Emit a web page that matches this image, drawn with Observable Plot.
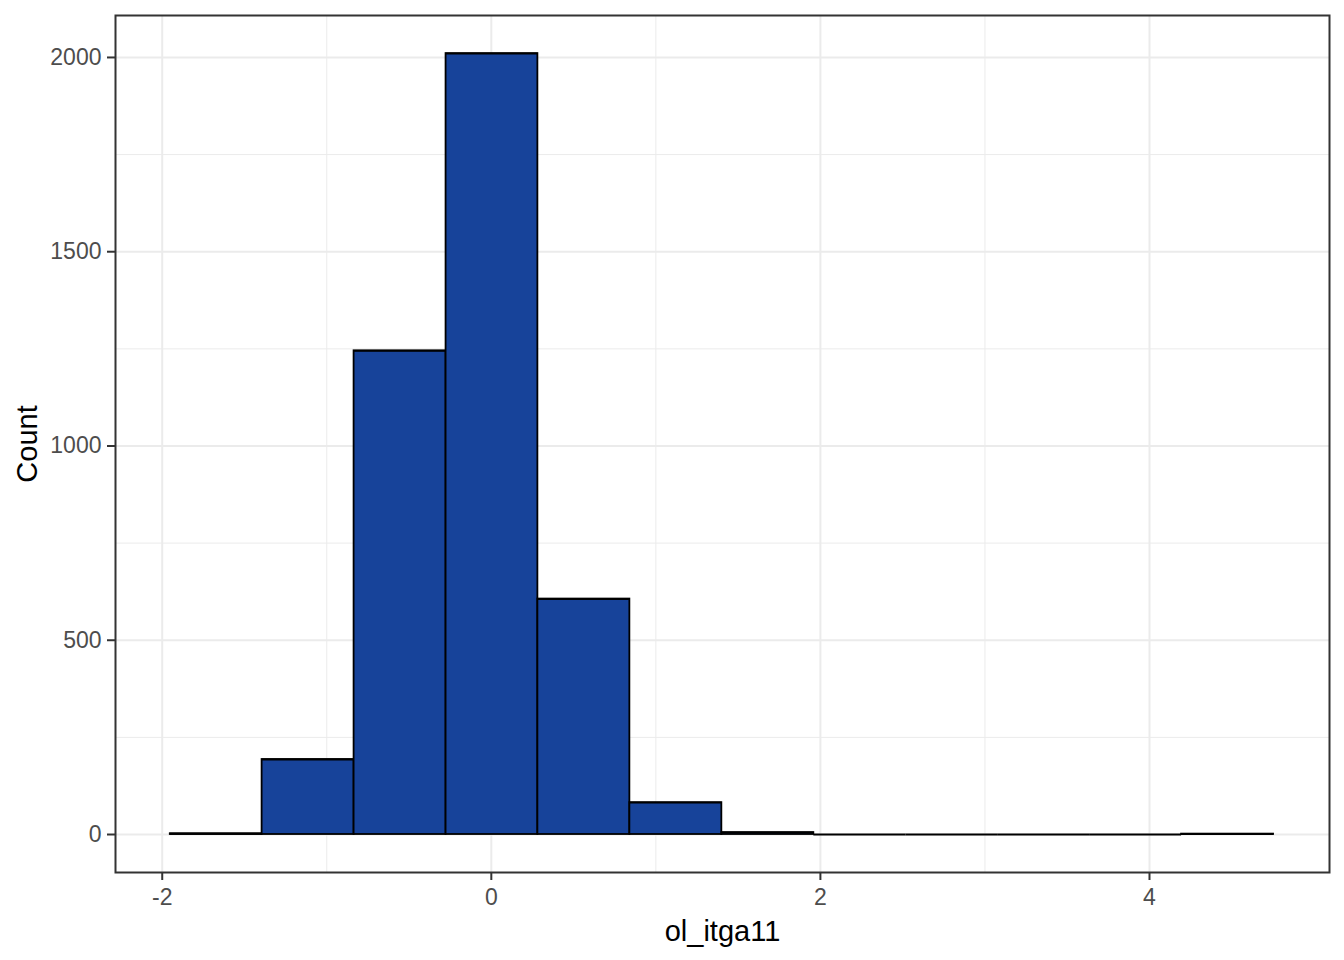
<!DOCTYPE html>
<html>
<head>
<meta charset="utf-8">
<script src="https://cdn.jsdelivr.net/npm/d3@7"></script>
<script src="https://cdn.jsdelivr.net/npm/@observablehq/plot@0.6"></script>
<style>
  html, body { margin: 0; padding: 0; background: #fff; }
  #chart svg { display: block; }
</style>
</head>
<body>
<div id="chart"></div>
<script>
// Histogram bins (left edges, right edges) and counts
const binLeft  = [-1.951, -1.393, -0.834, -0.275, 0.283, 0.842, 1.401, 1.960, 2.519, 3.077, 3.636, 4.195];
const binRight = [-1.393, -0.834, -0.275, 0.283, 0.842, 1.401, 1.960, 2.519, 3.077, 3.636, 4.195, 4.754];
const counts   = [2, 193, 1245, 2010, 606, 82, 5, 0, 0, 0, 0, 1];

const xMajor = [-2, 0, 2, 4];
const xMinor = [-1, 1, 3];
const yMajor = [0, 500, 1000, 1500, 2000];
const yMinor = [250, 750, 1250, 1750];

const xTitle = "ol_itga11";
const yTitle = "Count";

const bins = binLeft.map((x1, i) => ({x1, x2: binRight[i], count: counts[i]}));

const chart = Plot.plot({
  width: 1344,
  height: 960,
  marginLeft: 115,
  marginRight: 15,
  marginTop: 15,
  marginBottom: 88,
  style: {fontFamily: "'Liberation Sans', Arial, sans-serif", background: "#fff"},
  x: {domain: [-2.284, 5.094], axis: null},
  y: {domain: [-97.8, 2108], axis: null},
  marks: [
    Plot.gridX(xMinor, {stroke: "#ebebeb", strokeOpacity: 1, strokeWidth: 1}),
    Plot.gridY(yMinor, {stroke: "#ebebeb", strokeOpacity: 1, strokeWidth: 1}),
    Plot.gridX(xMajor, {stroke: "#ebebeb", strokeOpacity: 1, strokeWidth: 2}),
    Plot.gridY(yMajor, {stroke: "#ebebeb", strokeOpacity: 1, strokeWidth: 2}),
    Plot.rect(bins, {x1: "x1", x2: "x2", y1: 0, y2: "count", fill: "#17439A", stroke: "#000", strokeWidth: 1.8}),
    Plot.ruleY(bins, {y: "count", x1: "x1", x2: "x2", stroke: "#000", strokeWidth: 1.8}),
    Plot.frame({stroke: "#333333", strokeWidth: 2}),
    Plot.axisX(xMajor, {anchor: "bottom", tickSize: 8, tickPadding: 8, fontSize: 23, color: "#4d4d4d", stroke: "#333333", strokeWidth: 2, label: null, tickFormat: d => String(d).replace("\u2212", "-")}),
    Plot.axisY(yMajor, {anchor: "left", tickSize: 8, tickPadding: 6, fontSize: 23, color: "#4d4d4d", stroke: "#333333", strokeWidth: 2, label: null, tickFormat: d => String(d)}),
    Plot.text([xTitle], {frameAnchor: "bottom", dy: 59, text: d => d, fontSize: 29, fill: "#000", lineAnchor: "middle", textAnchor: "middle"}),
    Plot.text([yTitle], {frameAnchor: "left", dx: -88, text: d => d, fontSize: 29, fill: "#000", rotate: -90, lineAnchor: "middle", textAnchor: "middle"})
  ]
});

document.getElementById("chart").appendChild(chart);
</script>
</body>
</html>
